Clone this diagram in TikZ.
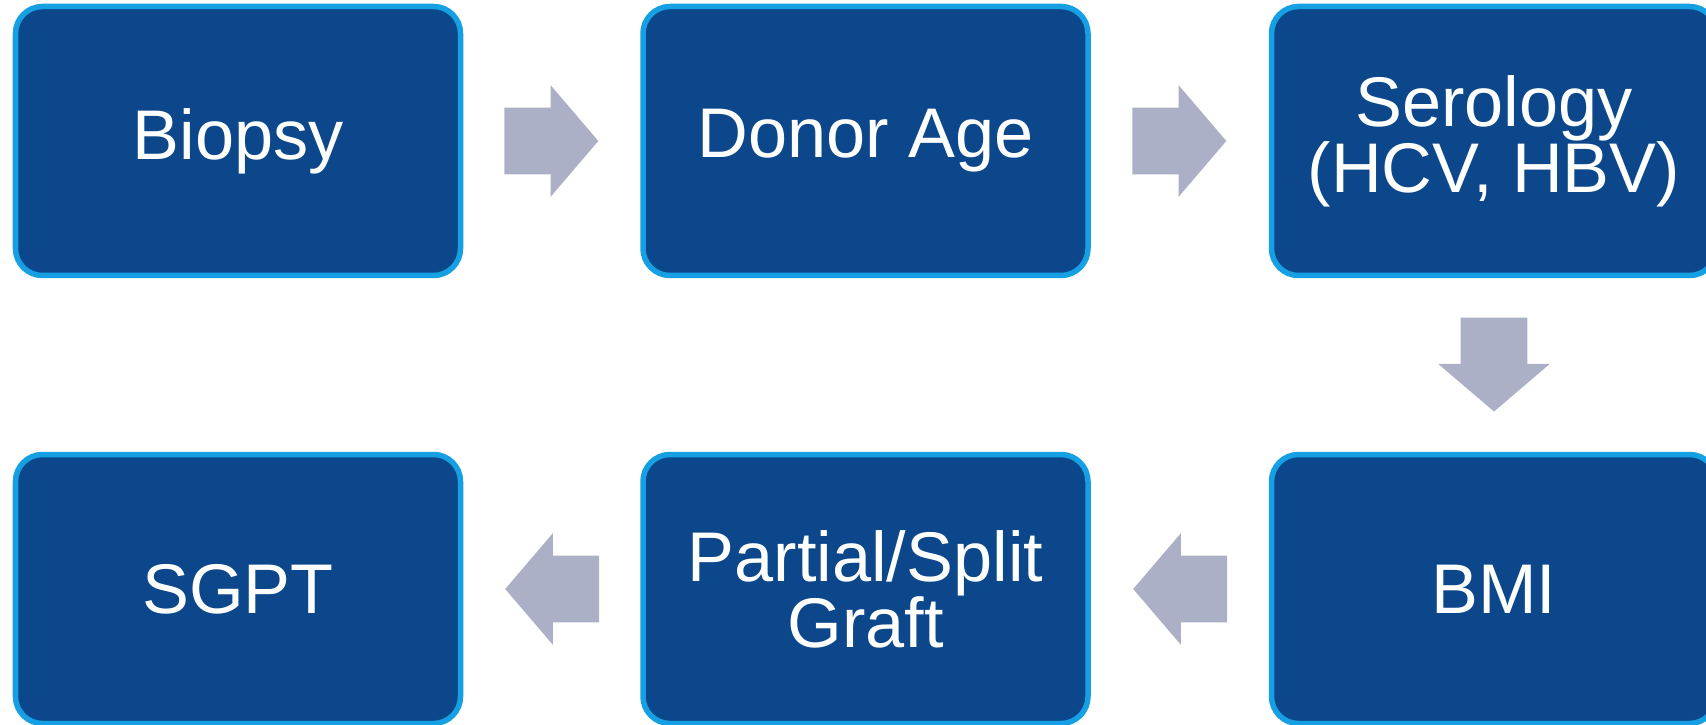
\documentclass[tikz,border=0pt]{standalone}
\usepackage{fontspec}
\setmainfont{Liberation Sans}
\usetikzlibrary{positioning,calc,shapes.arrows}
\definecolor{boxblue}{RGB}{12,71,139}
\definecolor{edgeblue}{RGB}{20,160,226}
\definecolor{arrowgrey}{RGB}{171,176,199}
\tikzset{
    stage/.style = {
        draw=edgeblue,
        fill=boxblue,
        shape=rectangle,
        rounded corners=0.54cm,
        minimum height=5.38cm,
        minimum width=8.9cm,
        line width=0.11cm,
        text=white,
        align=center,
        font=\fontsize{40}{37.5}\selectfont
    },
    flow/.style = {
        shape=single arrow,
        fill=arrowgrey,
        inner xsep=0pt,
        inner ysep=0.66cm,
        minimum height=1.88cm,
        minimum width=0pt,
        single arrow head extend=0.45cm,
        single arrow tip angle=99,
        anchor=tip
    },
}

\begin{document}
\begin{tikzpicture}
            \useasboundingbox (0,0) rectangle (34.12,-14.5);

            \node[stage] (biopsy) at (4.76,-2.82) {Biopsy};
            \node[stage] (age) at (17.31,-2.82) {Donor Age};
            \node[stage] (serology) at (29.88,-2.82) {Serology\\(HCV, HBV)};
            \node[stage] (bmi) at (29.88,-11.78) {BMI};
            \node[stage] (graft) at (17.31,-11.78) {Partial/Split\\Graft};
            \node[stage] (sgpt) at (4.76,-11.78) {SGPT};

            \node[flow] (a1) at ($(biopsy.east)!0.5!(age.west)+(0.94,0)$) {};
            \node[flow] (a2) at ($(age.east)!0.5!(serology.west)+(0.94,0)$) {};
            \node[flow, rotate=-90] (a3) at ($(serology.south)!0.5!(bmi.north)+(0,-0.94)$) {};
            \node[flow, rotate=180] (a4) at ($(bmi.west)!0.5!(graft.east)+(-0.94,0)$) {};
            \node[flow, rotate=180] (a5) at ($(graft.west)!0.5!(sgpt.east)+(-0.94,0)$) {};
        \end{tikzpicture}
\end{document}
